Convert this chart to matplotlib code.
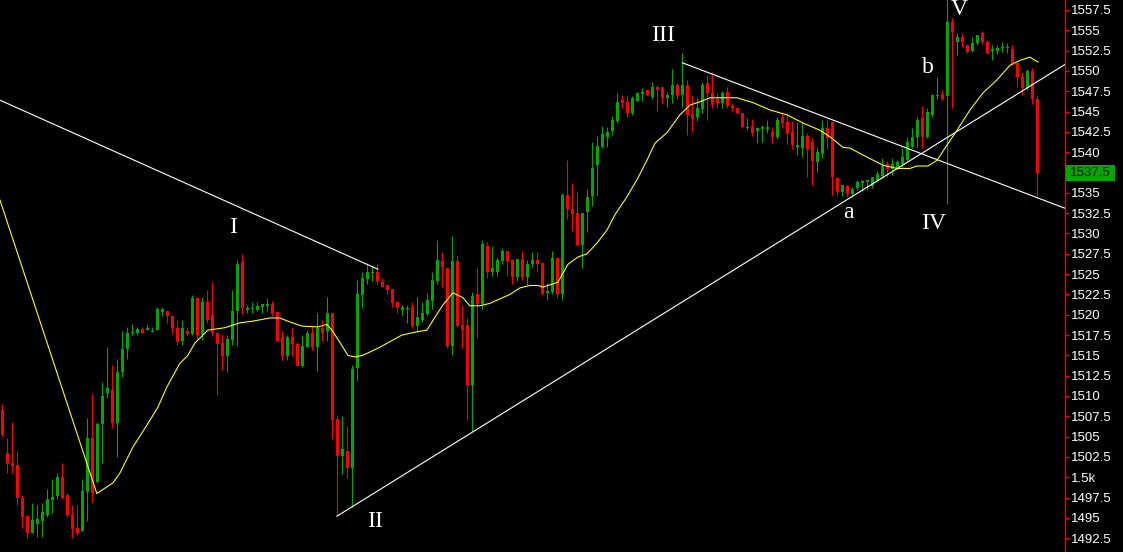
import numpy as np
import matplotlib.pyplot as plt
from matplotlib.patches import Rectangle
from matplotlib.ticker import FuncFormatter

# OHLC, one row per bar (oldest first)
opens = [1508.3, 1503.0, 1501.8, 1501.5, 1497.5, 1495.2, 1493.1, 1494.3, 1494.6, 1495.3,
         1497.2, 1497.7, 1500.0, 1497.8, 1495.4, 1493.7, 1493.4, 1498.2, 1504.8, 1499.4,
         1506.5, 1510.4, 1510.7, 1506.7, 1512.9, 1515.8, 1517.7, 1517.8, 1518.2, 1518.1,
         1517.9, 1518.1, 1520.3, 1520.4, 1519.9, 1518.4, 1516.8, 1518.0, 1517.6, 1522.0,
         1517.5, 1521.6, 1520.0, 1517.7, 1516.5, 1514.9, 1516.9, 1520.4, 1526.5, 1520.6,
         1520.7, 1520.6, 1521.0, 1521.1, 1521.3, 1520.3, 1517.2, 1514.9, 1517.2, 1516.4,
         1513.7, 1516.0, 1517.7, 1516.0, 1518.4, 1518.0, 1520.2, 1507.2, 1502.6, 1503.2,
         1501.1, 1513.4, 1522.4, 1524.4, 1525.1, 1525.3, 1524.0, 1523.7, 1523.2, 1521.6,
         1520.6, 1520.7, 1521.0, 1518.6, 1519.3, 1520.1, 1521.7, 1524.1, 1526.6, 1525.8,
         1516.1, 1526.6, 1518.7, 1518.7, 1511.3, 1522.5, 1521.3, 1528.5, 1525.2, 1525.3,
         1526.6, 1527.9, 1526.7, 1524.6, 1526.9, 1524.6, 1526.3, 1526.7, 1526.4, 1522.7,
         1522.8, 1527.0, 1522.6, 1534.7, 1533.0, 1532.5, 1528.6, 1532.6, 1534.6, 1538.4,
         1540.6, 1541.9, 1542.6, 1543.8, 1546.4, 1546.2, 1544.8, 1546.3, 1547.2, 1547.6,
         1546.8, 1548.0, 1548.0, 1546.7, 1547.1, 1548.3, 1547.1, 1548.3, 1544.7, 1544.3,
         1545.3, 1548.5, 1547.3, 1546.5, 1546.0, 1547.4, 1545.7, 1545.4, 1544.8, 1543.0,
         1543.2, 1542.6, 1542.9, 1542.9, 1542.5, 1541.9, 1544.3, 1543.7, 1542.5, 1540.7,
         1540.5, 1542.0, 1541.3, 1538.8, 1539.8, 1543.0, 1543.7, 1536.8, 1535.1, 1535.8,
         1534.8, 1535.6, 1536.2, 1536.3, 1535.8, 1536.6, 1537.1, 1538.6, 1537.9, 1538.0,
         1538.5, 1539.1, 1540.6, 1541.9, 1544.2, 1541.9, 1544.6, 1546.9, 1547.0, 1546.9,
         1556.0, 1553.6, 1554.2, 1553.2, 1552.5, 1553.4, 1554.7, 1553.6, 1552.5, 1552.4,
         1552.8, 1552.8, 1552.7, 1551.0, 1549.2, 1547.9, 1550.0, 1546.6]
highs = [1509.0, 1504.8, 1506.8, 1503.2, 1497.8, 1495.2, 1496.8, 1496.6, 1496.8, 1498.5,
         1499.8, 1500.5, 1501.7, 1498.1, 1496.6, 1496.6, 1499.8, 1507.3, 1510.2, 1506.8,
         1511.7, 1516.0, 1513.8, 1514.5, 1518.0, 1518.5, 1518.9, 1518.5, 1518.5, 1518.9,
         1518.5, 1520.9, 1520.9, 1520.4, 1519.9, 1519.4, 1519.4, 1518.5, 1522.4, 1522.2,
         1522.2, 1523.0, 1524.0, 1517.9, 1517.6, 1517.5, 1523.0, 1526.7, 1527.5, 1521.2,
         1521.6, 1521.6, 1521.3, 1522.0, 1521.7, 1520.3, 1518.0, 1517.5, 1518.5, 1516.7,
         1517.5, 1518.1, 1518.6, 1520.2, 1519.4, 1522.2, 1520.2, 1507.7, 1507.5, 1506.3,
         1513.8, 1524.3, 1525.2, 1526.4, 1526.0, 1526.2, 1524.5, 1523.7, 1523.2, 1521.6,
         1521.2, 1521.2, 1521.6, 1522.2, 1521.6, 1522.7, 1525.3, 1529.2, 1527.7, 1525.8,
         1529.7, 1527.2, 1521.2, 1519.6, 1522.8, 1525.7, 1529.2, 1529.0, 1528.5, 1527.1,
         1528.2, 1527.9, 1526.9, 1526.9, 1527.9, 1526.7, 1527.7, 1527.7, 1526.4, 1523.9,
         1527.9, 1527.0, 1535.0, 1539.0, 1536.2, 1535.2, 1532.5, 1535.5, 1541.3, 1542.0,
         1543.2, 1543.1, 1544.5, 1547.3, 1547.0, 1547.0, 1546.9, 1547.4, 1547.9, 1547.6,
         1548.7, 1548.3, 1548.0, 1547.4, 1550.2, 1548.5, 1552.2, 1548.9, 1547.0, 1546.7,
         1548.7, 1549.5, 1549.9, 1547.3, 1547.5, 1548.0, 1546.0, 1545.5, 1544.8, 1544.2,
         1544.1, 1543.1, 1543.3, 1544.0, 1543.1, 1544.3, 1544.8, 1544.8, 1543.8, 1543.7,
         1543.7, 1542.4, 1541.8, 1540.6, 1544.0, 1544.1, 1543.7, 1536.8, 1536.0, 1536.0,
         1535.7, 1536.6, 1536.6, 1536.6, 1536.9, 1537.7, 1539.3, 1538.9, 1539.3, 1539.0,
         1540.5, 1541.9, 1543.0, 1544.3, 1545.7, 1545.4, 1547.2, 1549.2, 1547.7, 1559.5,
         1556.5, 1554.7, 1554.7, 1553.2, 1554.2, 1554.4, 1554.9, 1553.8, 1553.2, 1553.2,
         1553.6, 1553.4, 1553.2, 1551.0, 1549.9, 1550.2, 1550.4, 1547.0]
lows = [1504.9, 1500.5, 1500.5, 1496.6, 1493.7, 1492.5, 1493.1, 1492.6, 1492.6, 1495.1,
        1495.6, 1497.3, 1497.3, 1495.1, 1492.5, 1492.9, 1493.4, 1494.6, 1496.9, 1499.3,
        1501.7, 1509.7, 1506.0, 1502.5, 1512.3, 1514.6, 1517.5, 1517.5, 1517.8, 1518.1,
        1517.9, 1518.1, 1519.8, 1519.0, 1517.8, 1516.3, 1516.3, 1517.4, 1517.5, 1516.9,
        1516.9, 1519.0, 1517.4, 1510.1, 1513.2, 1512.9, 1516.3, 1516.1, 1520.1, 1520.2,
        1520.2, 1520.4, 1520.2, 1520.4, 1519.9, 1516.8, 1514.4, 1514.4, 1514.9, 1513.7,
        1513.6, 1516.0, 1515.7, 1513.1, 1516.8, 1516.8, 1504.7, 1495.2, 1500.4, 1499.9,
        1496.3, 1511.8, 1520.8, 1523.8, 1524.1, 1523.8, 1523.4, 1522.5, 1521.0, 1520.2,
        1520.0, 1519.0, 1518.4, 1517.9, 1519.1, 1519.9, 1520.7, 1523.8, 1523.4, 1515.9,
        1515.1, 1518.5, 1515.9, 1507.1, 1505.6, 1517.1, 1520.7, 1524.5, 1524.8, 1524.8,
        1526.3, 1524.8, 1523.8, 1524.1, 1524.3, 1523.7, 1525.9, 1525.4, 1522.4, 1521.8,
        1522.6, 1522.0, 1521.8, 1531.8, 1530.3, 1528.6, 1525.7, 1530.2, 1533.4, 1534.6,
        1540.5, 1540.6, 1542.1, 1543.6, 1545.4, 1544.3, 1544.6, 1546.3, 1546.3, 1547.0,
        1546.6, 1545.1, 1546.1, 1545.6, 1546.1, 1546.5, 1545.6, 1542.1, 1542.5, 1543.8,
        1544.8, 1544.0, 1545.4, 1545.4, 1545.4, 1545.4, 1545.1, 1544.8, 1543.0, 1542.7,
        1542.0, 1541.1, 1541.2, 1542.4, 1541.1, 1541.6, 1543.0, 1541.0, 1540.4, 1539.6,
        1539.4, 1536.9, 1536.0, 1537.6, 1539.3, 1540.4, 1534.7, 1534.7, 1534.6, 1534.5,
        1534.5, 1535.4, 1535.2, 1535.3, 1535.6, 1536.3, 1536.8, 1536.9, 1537.2, 1537.8,
        1538.2, 1538.9, 1540.5, 1540.6, 1540.5, 1541.8, 1544.3, 1546.5, 1546.4, 1533.6,
        1545.4, 1552.0, 1553.0, 1552.2, 1552.3, 1553.2, 1553.3, 1552.1, 1551.3, 1552.1,
        1552.3, 1552.2, 1550.7, 1548.0, 1547.0, 1547.6, 1545.9, 1534.5]
closes = [1505.2, 1501.6, 1501.4, 1497.4, 1495.1, 1493.1, 1494.7, 1494.9, 1495.7, 1497.3,
          1497.6, 1500.0, 1497.4, 1495.3, 1493.6, 1493.1, 1498.3, 1504.8, 1498.1, 1506.5,
          1510.0, 1511.0, 1506.7, 1513.0, 1515.8, 1517.8, 1517.9, 1518.2, 1517.8, 1518.4,
          1518.0, 1520.7, 1520.7, 1519.8, 1518.4, 1516.8, 1518.4, 1517.6, 1522.1, 1517.5,
          1521.6, 1519.3, 1517.7, 1516.4, 1514.9, 1517.0, 1520.4, 1526.2, 1520.8, 1520.8,
          1520.8, 1521.1, 1521.3, 1521.3, 1520.1, 1516.8, 1514.9, 1517.2, 1516.4, 1513.7,
          1516.2, 1517.7, 1516.0, 1518.4, 1517.8, 1520.2, 1507.1, 1502.6, 1503.5, 1501.1,
          1513.3, 1522.5, 1524.5, 1525.2, 1525.3, 1524.1, 1523.4, 1523.1, 1521.4, 1520.8,
          1521.0, 1520.8, 1518.6, 1519.7, 1520.2, 1521.8, 1524.3, 1526.7, 1525.9, 1516.1,
          1526.6, 1518.6, 1518.1, 1511.3, 1522.3, 1521.3, 1528.7, 1525.2, 1525.7, 1526.7,
          1527.9, 1526.6, 1524.6, 1526.9, 1524.6, 1526.2, 1526.7, 1526.3, 1522.6, 1522.9,
          1527.0, 1522.6, 1534.7, 1533.0, 1532.4, 1528.6, 1532.5, 1534.5, 1538.1, 1540.8,
          1542.2, 1542.5, 1544.0, 1546.2, 1546.0, 1544.8, 1546.7, 1547.3, 1547.3, 1547.1,
          1548.0, 1547.6, 1546.7, 1547.1, 1548.3, 1547.1, 1548.3, 1544.6, 1544.1, 1545.4,
          1548.3, 1547.3, 1545.8, 1546.0, 1547.3, 1545.7, 1545.4, 1544.8, 1543.1, 1543.1,
          1542.4, 1543.0, 1543.0, 1543.0, 1541.9, 1544.0, 1543.6, 1542.4, 1540.9, 1540.9,
          1542.0, 1540.4, 1538.9, 1540.0, 1543.0, 1541.7, 1536.9, 1535.1, 1536.0, 1535.0,
          1535.5, 1536.3, 1536.5, 1536.6, 1536.9, 1537.3, 1538.3, 1537.9, 1538.6, 1538.8,
          1539.4, 1541.3, 1541.9, 1544.0, 1541.9, 1544.9, 1547.0, 1547.0, 1546.5, 1556.0,
          1554.8, 1554.2, 1553.6, 1552.3, 1553.4, 1554.4, 1553.6, 1552.2, 1552.6, 1552.8,
          1552.9, 1553.0, 1550.9, 1549.3, 1547.9, 1550.0, 1546.5, 1537.5]

# moving average (bar index, value)
ma_idx = [-0.46, 18.9, 22.1, 23.5, 26.1, 28.9, 31.1, 32.9, 35.5, 37.1, 38.5, 41.1, 44.5,
          47.5, 50.0, 53.5, 55.5, 57.1, 59.9, 63.1, 64.9, 65.9, 67.5, 69.1, 70.5, 72.1,
          75.5, 79.9, 82.9, 84.9, 86.1, 88.1, 90.1, 92.1, 93.5, 95.5, 97.5, 101.5, 103.5,
          105.5, 107.1, 108.1, 111.1, 113.1, 115.1, 116.9, 118.9, 120.9, 122.5, 124.9,
          126.9, 128.9, 130.5, 132.9, 135.5, 137.5, 139.5, 141.5, 146.9, 150.1, 153.5,
          156.9, 160.1, 163.5, 165.5, 168.1, 169.5, 172.9, 176.1, 178.9, 181.5, 182.9,
          185.1, 186.9, 188.5, 190.9, 193.5, 196.1, 198.9, 201.5, 203.5, 205.5, 206.5, 207.1]
ma_val = [1534.1, 1498.0, 1499.3, 1500.5, 1503.7, 1506.4, 1508.6, 1511.1, 1514.0, 1515.0,
          1516.5, 1518.1, 1518.4, 1519.0, 1519.2, 1519.6, 1519.6, 1519.2, 1518.6, 1518.5,
          1518.8, 1518.1, 1516.6, 1515.0, 1514.8, 1515.0, 1516.0, 1517.5, 1517.9, 1518.1,
          1519.3, 1521.2, 1522.7, 1522.1, 1521.1, 1521.1, 1521.4, 1522.5, 1523.3, 1523.6,
          1523.6, 1523.4, 1524.0, 1526.2, 1527.1, 1527.5, 1528.8, 1530.4, 1532.3, 1534.5,
          1536.6, 1539.0, 1541.1, 1542.4, 1544.6, 1545.8, 1546.2, 1546.7, 1546.7, 1546.1,
          1545.2, 1544.6, 1543.6, 1542.7, 1541.9, 1540.6, 1540.5, 1539.4, 1538.4, 1538.0,
          1538.0, 1538.3, 1538.3, 1539.0, 1540.5, 1542.7, 1545.2, 1547.3, 1548.9, 1550.7,
          1551.3, 1551.7, 1551.3, 1551.1]

# hand-drawn trend lines: (x0, y0, x1, y1)
trend_lines = [(-0.46, 1546.4, 75.1, 1525.6),
               (66.9, 1495.2, 212.5, 1550.8),
               (136.0, 1551.0, 212.5, 1533.1)]

# wave labels: (text, bar index, price)
wave_labels = [("I", 46.1, 1530.7), ("II", 74.5, 1494.5), ("III", 132.1, 1554.3),
               ("a", 169.1, 1532.6), ("b", 185.1, 1550.4), ("IV", 186.3, 1531.2),
               ("V", 191.3, 1557.5)]

last_price = 1537.5

GREEN = '#00a800'
RED = '#ff0000'
W, H = 1123, 552

fig = plt.figure(figsize=(W / 100, H / 100), dpi=100, facecolor='black')
ax = fig.add_axes([0, 0, 1065 / W, 1])
ax.set_facecolor('black')

o = np.array(opens)
h = np.array(highs)
l = np.array(lows)
c = np.array(closes)
x = np.arange(len(o))
up = c >= o
cols = np.where(up, GREEN, RED)

ax.vlines(x, l, h, colors=cols, linewidth=0.8, zorder=2)
bottom = np.minimum(o, c)
height = np.maximum(np.abs(c - o), 0.15)
ax.bar(x, height, bottom=bottom, width=0.6, color=cols, linewidth=0, zorder=3)

ax.plot(ma_idx, ma_val, color='#ffff00', linewidth=0.8, zorder=4)

for x0, y0, x1, y1 in trend_lines:
    ax.plot([x0, x1], [y0, y1], color='white', linewidth=0.8, zorder=5)

for txt, xi, yv in wave_labels:
    ax.text(xi, yv, txt, color='white', fontsize=17, family='Liberation Serif',
            ha='center', va='center', zorder=6)

ax.set_xlim(-0.46, 212.5)
ax.set_ylim(1490.8, 1558.73)

ax.xaxis.set_visible(False)
for s in ['top', 'bottom', 'left']:
    ax.spines[s].set_visible(False)
ax.spines['right'].set_color(RED)
ax.spines['right'].set_linewidth(1)
ax.yaxis.tick_right()
ax.set_yticks(np.arange(1492.5, 1558, 2.5))


def fmt(v, pos):
    if abs(v - 1500) < 1e-6:
        return '1.5k'
    if abs(v - last_price) < 1e-6:
        return ''  # hidden behind the last-price box
    return '%g' % v


ax.yaxis.set_major_formatter(FuncFormatter(fmt))
ax.tick_params(axis='y', colors=RED, labelcolor='white', length=3, width=1,
               pad=1, labelsize=9.5)
for t in ax.get_yticklabels():
    t.set_family('Liberation Sans')

# last price box on the axis
fig.canvas.draw()
ypix = ax.transData.transform((0, last_price))[1]
fig.patches.append(Rectangle((1066 / W, (ypix - 8) / H), 49 / W, 16 / H,
                             transform=fig.transFigure, facecolor=GREEN,
                             edgecolor='none', zorder=10))
fig.text(1090 / W, ypix / H, '1537.5', ha='center', va='center', fontsize=9.5,
         family='Liberation Sans', color='black', zorder=11)

fig.savefig('out.png', dpi=100, facecolor='black')
